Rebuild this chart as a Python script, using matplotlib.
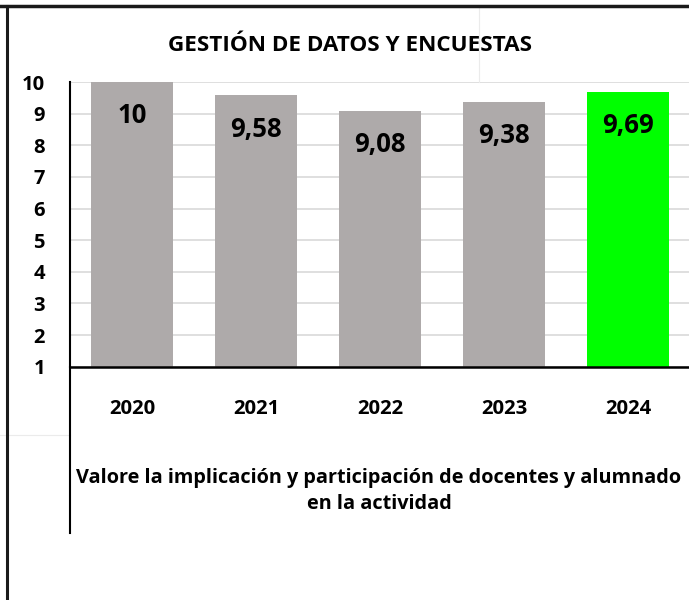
#!/usr/bin/env python3
import matplotlib

matplotlib.use("Agg")
import matplotlib.pyplot as plt
from matplotlib.lines import Line2D

years = ["2020", "2021", "2022", "2023", "2024"]
scores = [10, 9.58, 9.08, 9.38, 9.69]
score_labels = ["10", "9,58", "9,08", "9,38", "9,69"]
bar_colors = ["#AEAAAA", "#AEAAAA", "#AEAAAA", "#AEAAAA", "#00FF00"]
y_ticks = [1, 2, 3, 4, 5, 6, 7, 8, 9, 10]

title = "GESTIÓN DE DATOS Y ENCUESTAS"
x_label = "Valore la implicación y participación de docentes y alumnado\nen la actividad"

W, H = 689, 600
plt.rcParams["font.family"] = ["Open Sans", "DejaVu Sans"]
plt.rcParams["font.weight"] = "bold"

fig = plt.figure(figsize=(W / 100, H / 100), dpi=100)

# plot area in pixels: x 70..690, y 82..366.7
left, right, top, bottom = 70, 690, 82, 366.7
ax = fig.add_axes([left / W, 1 - bottom / H, (right - left) / W, (bottom - top) / H])

xs = range(len(years))
ax.bar(xs, [s - 1 for s in scores], bottom=1, width=0.66, color=bar_colors, zorder=2)

for x, s, lab in zip(xs, scores, score_labels):
    ax.annotate(lab, (x, s), xytext=(0, -24.3), textcoords="offset points",
                ha="center", va="center", fontsize=18.5, fontweight="bold", zorder=3)

ax.set_xlim(-0.5, 4.5)
ax.set_ylim(1, 10)
ax.set_yticks(y_ticks)
ax.set_xticks(list(xs))
ax.set_xticklabels(years)
ax.tick_params(axis="x", length=0, pad=23, labelsize=14.6)
ax.tick_params(axis="y", length=0, pad=18, labelsize=14.5)
for lbl in ax.get_xticklabels() + ax.get_yticklabels():
    lbl.set_fontweight("bold")

ax.grid(axis="y", color="#D9D9D9", linewidth=1.2, zorder=0)
ax.set_axisbelow(True)
for side in ("top", "right"):
    ax.spines[side].set_visible(False)
ax.spines["left"].set_linewidth(1.5)
ax.spines["bottom"].set_linewidth(1.8)

fig.text(350 / W, 1 - 45.5 / H, title, ha="center", va="center",
         fontsize=16.2, fontweight="bold")
fig.text(379 / W, 1 - 491 / H, x_label, ha="center", va="center",
         fontsize=14.3, fontweight="bold", linespacing=1.45)

def px_line(x0, y0, x1, y1, **kw):
    fig.add_artist(Line2D([x0 / W, x1 / W], [1 - y0 / H, 1 - y1 / H],
                          transform=fig.transFigure, **kw))

# faint sheet lines behind the chart
px_line(0, 435, 70, 435, color="#EBEBEB", linewidth=0.8)
px_line(479, 6, 479, 82, color="#EBEBEB", linewidth=0.8)
# axis extension below plot area
px_line(70, 366.7, 70, 533, color="black", linewidth=1.5)
# outer frame (top and left)
px_line(0, 6, W, 6, color="#1A1A1A", linewidth=2.5)
px_line(6.5, 6, 6.5, H, color="#1A1A1A", linewidth=2.2)

fig.savefig("out.png", dpi=100)
